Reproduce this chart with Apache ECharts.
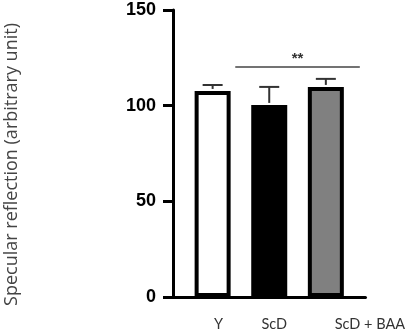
<!DOCTYPE html>
<html>
<head>
<meta charset="utf-8">
<script src="https://cdn.jsdelivr.net/npm/echarts@6/dist/echarts.min.js"></script>
<style>html,body{margin:0;padding:0;background:#fff}#c{width:408px;height:333px}</style>
</head>
<body>
<div id="c"></div>
<script>
// ---- data ----
const categories = ['Y', 'ScD', 'ScD + BAA'];
const categoryPos = [0, 1, 2];
const means = [107.7, 100.4, 109.8];
const sds = [3.1, 9.4, 4.2];
const yTickValues = [0, 50, 100, 150];
const sigSpan = [0.4, 2.6];
const sigLevel = 120.2;
const sigLabel = '**';
const yTitle = 'Specular reflection (arbitrary unit)';

// ---- styles ----
const fills = ['#ffffff', '#000000', '#808080'];
const labelShift = [27, 10, 73];

const chart = echarts.init(document.getElementById('c'), null, {renderer: 'canvas'});
const rich = {};
categories.forEach((c, i) => {
  rich['l' + i] = {padding: [0, 0, 0, labelShift[i]], fontFamily: 'Lato', fontSize: 14.5, color: '#333'};
});

chart.setOption({
  animation: false,
  grid: {left: 173, right: 42, top: 10, bottom: 36, containLabel: false},
  xAxis: [
    {
      type: 'value', gridIndex: 0, position: 'bottom', min: -0.7, max: 2.7,
      axisLine: {show: true, onZero: false, lineStyle: {color: '#000', width: 3}},
      axisTick: {show: false}, axisLabel: {show: false}, splitLine: {show: false}
    },
    {
      type: 'category', gridIndex: 0, position: 'bottom', data: categories,
      axisLine: {show: false, onZero: false}, axisTick: {show: false}, splitLine: {show: false},
      axisLabel: {
        margin: 20, interval: 0, hideOverlap: false,
        formatter: (v, i) => '{l' + i + '|' + v + '}',
        rich: rich
      }
    }
  ],
  yAxis: {
    type: 'value', min: yTickValues[0], max: yTickValues[yTickValues.length - 1], interval: 50,
    axisLine: {show: true, onZero: false, lineStyle: {color: '#000', width: 3}},
    axisTick: {show: true, length: 10, lineStyle: {color: '#000', width: 3}},
    axisLabel: {margin: 17, fontFamily: 'Liberation Sans', fontWeight: 'bold', fontSize: 18, color: '#000'},
    splitLine: {show: false},
    name: yTitle, nameLocation: 'middle', nameRotate: 90, nameGap: 152,
    nameTextStyle: {fontFamily: 'Open Sans', fontSize: 18, color: '#444', padding: [0, 22, 0, 0]}
  },
  series: [
    {
      type: 'bar', xAxisIndex: 0, barWidth: 36,
      data: means.map((m, i) => ({value: [categoryPos[i], m], itemStyle: {color: fills[i]}})),
      itemStyle: {borderColor: '#000', borderWidth: 4},
      z: 2
    },
    {
      type: 'custom', xAxisIndex: 0, z: 3,
      data: means.map((m, i) => [categoryPos[i], m, m + sds[i]]),
      renderItem: function (params, api) {
        const x = api.value(0);
        const p0 = api.coord([x, api.value(1)]);
        const p1 = api.coord([x, api.value(2)]);
        const cap = 10;
        return {
          type: 'group',
          children: [
            {type: 'line', shape: {x1: p0[0], y1: p0[1] - 2, x2: p1[0], y2: p1[1]}, style: {stroke: '#333', lineWidth: 2}},
            {type: 'line', shape: {x1: p1[0] - cap, y1: p1[1], x2: p1[0] + cap, y2: p1[1]}, style: {stroke: '#333', lineWidth: 2}}
          ]
        };
      }
    },
    {
      type: 'custom', xAxisIndex: 0, z: 3,
      data: [[sigSpan[0], sigSpan[1], sigLevel]],
      renderItem: function (params, api) {
        const a = api.coord([api.value(0), api.value(2)]);
        const b = api.coord([api.value(1), api.value(2)]);
        return {
          type: 'group',
          children: [
            {type: 'line', shape: {x1: a[0], y1: a[1], x2: b[0], y2: b[1]}, style: {stroke: '#444', lineWidth: 1.5}},
            {type: 'text', x: (a[0] + b[0]) / 2, y: a[1] - 8,
             style: {text: sigLabel, fill: '#333', font: 'bold 15px "Liberation Sans"', align: 'center', verticalAlign: 'middle'}}
          ]
        };
      }
    }
  ]
});
</script>
</body>
</html>
